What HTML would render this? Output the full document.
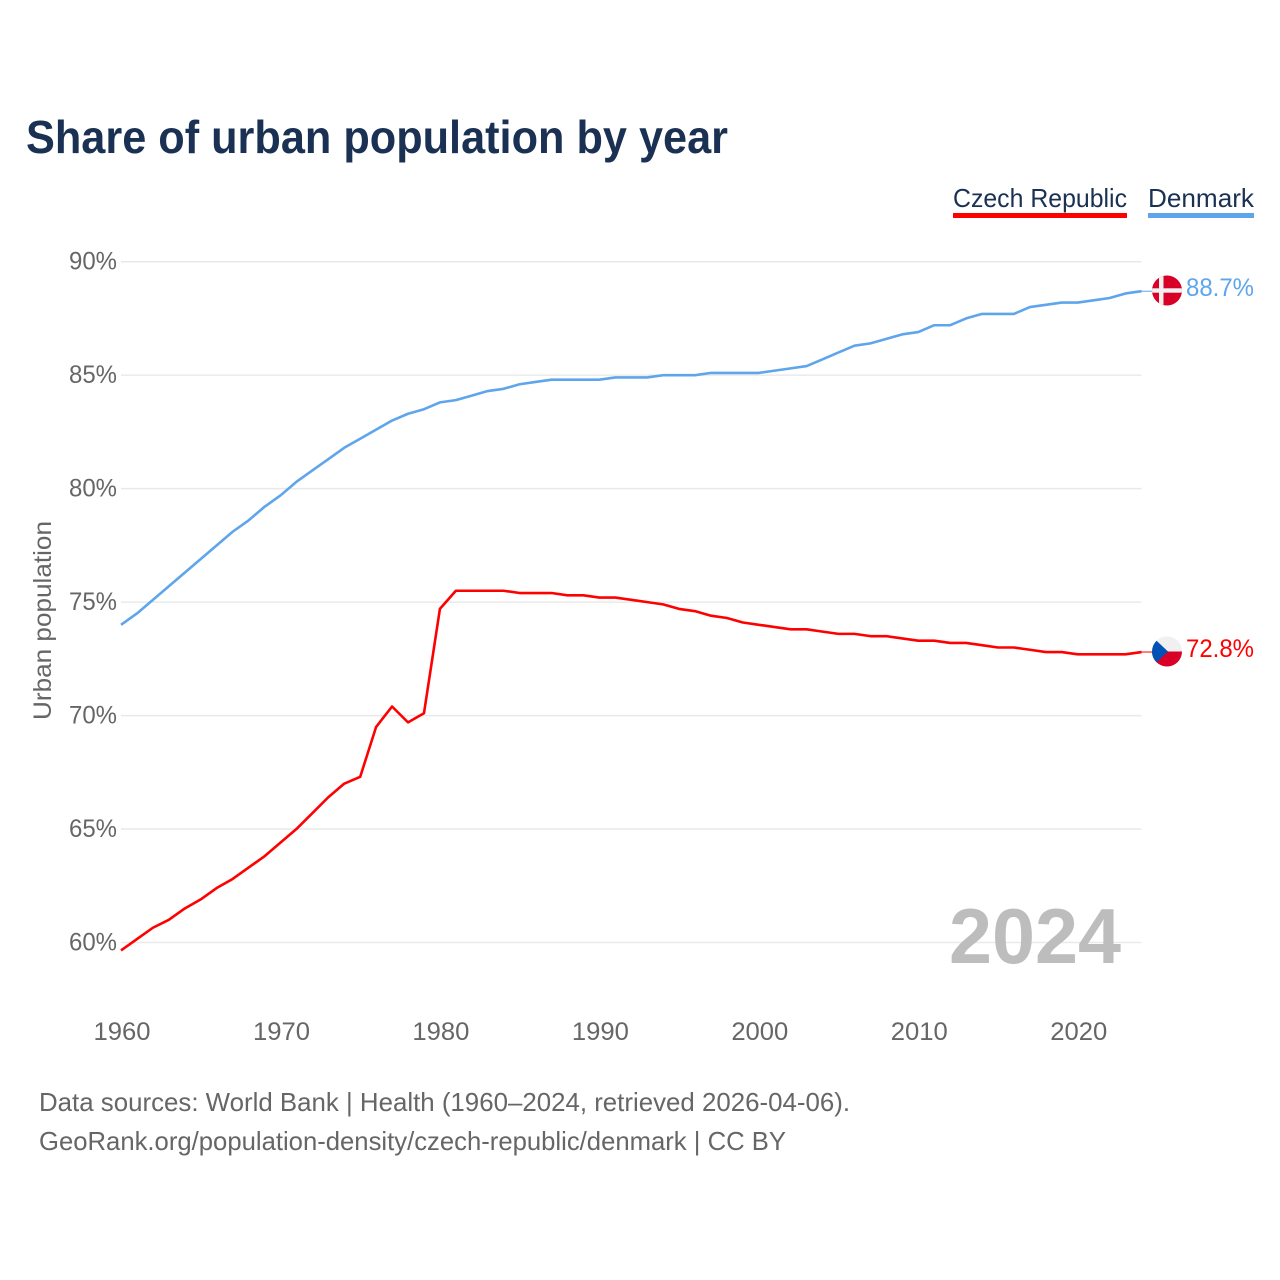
<!DOCTYPE html>
<html lang="en">
<head>
<meta charset="utf-8">
<title>Share of urban population by year</title>
<style>
html,body{margin:0;padding:0;background:#fff;width:1280px;height:1280px;overflow:hidden}
svg{display:block;font-family:"Liberation Sans",sans-serif}
</style>
</head>
<body>
<svg id="chart" width="1280" height="1280" viewBox="0 0 1280 1280" xmlns="http://www.w3.org/2000/svg">
<defs>
<clipPath id="flag-clip-dk"><circle cx="1167" cy="290.5" r="15"/></clipPath>
<clipPath id="flag-clip-cz"><circle cx="1167" cy="651.5" r="15"/></clipPath>
</defs>
<rect width="1280" height="1280" fill="#fff"/>
<text x="26" y="153" font-size="46" font-weight="700" fill="#1a3153" textLength="702" lengthAdjust="spacingAndGlyphs">Share of urban population by year</text>
<g id="grid"></g>
<g id="y-ticks"></g>
<g id="x-ticks"></g>
<text transform="translate(51,620.5) rotate(-90)" text-anchor="middle" font-size="25" fill="#666" textLength="199" lengthAdjust="spacingAndGlyphs">Urban population</text>
<text x="949" y="963" font-size="78" font-weight="700" fill="#bdbdbd" textLength="172" lengthAdjust="spacingAndGlyphs">2024</text>
<g id="series"></g>
<g>
<text x="953" y="207" font-size="26" fill="#1a3153" textLength="174" lengthAdjust="spacingAndGlyphs">Czech Republic</text>
<rect x="953" y="213" width="174" height="5" fill="#ff0000"/>
</g>
<g>
<text x="1148" y="207" font-size="26" fill="#1a3153" textLength="106" lengthAdjust="spacingAndGlyphs">Denmark</text>
<rect x="1148" y="213" width="106" height="5" fill="#5fa5ec"/>
</g>
<g clip-path="url(#flag-clip-dk)">
<rect x="1150" y="273" width="34" height="36" fill="#d80027"/>
<rect x="1159" y="273" width="4.5" height="36" fill="#f0f0f0"/>
<rect x="1150" y="288.3" width="34" height="4.4" fill="#f0f0f0"/>
</g>
<g clip-path="url(#flag-clip-cz)">
<rect x="1150" y="634" width="34" height="17.5" fill="#f0f0f0"/>
<rect x="1150" y="651.5" width="34" height="18" fill="#d80027"/>
<polygon points="1152,636.5 1168,651.5 1152,666.5" fill="#0052b4"/>
</g>
<text id="end-label-denmark" x="1186" y="296" font-size="25" fill="#5fa5ec" textLength="68" lengthAdjust="spacingAndGlyphs"></text>
<text id="end-label-czech" x="1186" y="657" font-size="25" fill="#ff0000" textLength="68" lengthAdjust="spacingAndGlyphs"></text>
<text x="39" y="1111" font-size="26" fill="#666" textLength="811" lengthAdjust="spacingAndGlyphs">Data sources: World Bank | Health (1960–2024, retrieved 2026-04-06).</text>
<text x="39" y="1150" font-size="26" fill="#666" textLength="747" lengthAdjust="spacingAndGlyphs">GeoRank.org/population-density/czech-republic/denmark | CC BY</text>
</svg>
<script>
var startYear = 1960;
var yTickValues = [60, 65, 70, 75, 80, 85, 90];
var xTickValues = [1960, 1970, 1980, 1990, 2000, 2010, 2020];
var denmarkValues = [74.0,74.5,75.1,75.7,76.3,76.9,77.5,78.1,78.6,79.2,79.7,80.3,80.8,81.3,81.8,82.2,82.6,83.0,83.3,83.5,83.8,83.9,84.1,84.3,84.4,84.6,84.7,84.8,84.8,84.8,84.8,84.9,84.9,84.9,85.0,85.0,85.0,85.1,85.1,85.1,85.1,85.2,85.3,85.4,85.7,86.0,86.3,86.4,86.6,86.8,86.9,87.2,87.2,87.5,87.7,87.7,87.7,88.0,88.1,88.2,88.2,88.3,88.4,88.6,88.7];
var czechValues = [59.65,60.15,60.65,61.0,61.5,61.9,62.4,62.8,63.3,63.8,64.4,65.0,65.7,66.4,67.0,67.3,69.5,70.4,69.7,70.1,74.7,75.5,75.5,75.5,75.5,75.4,75.4,75.4,75.3,75.3,75.2,75.2,75.1,75.0,74.9,74.7,74.6,74.4,74.3,74.1,74.0,73.9,73.8,73.8,73.7,73.6,73.6,73.5,73.5,73.4,73.3,73.3,73.2,73.2,73.1,73.0,73.0,72.9,72.8,72.8,72.7,72.7,72.7,72.7,72.8];

var SVGNS = 'http://www.w3.org/2000/svg';
function xScale(year) { return 121 + (year - 1960) * (1141.5 - 121) / 64; }
function yScale(v) { return 942.5 - (v - 60) * (942.5 - 261.7) / 30; }
function make(tag, attrs, parent, text) {
  var el = document.createElementNS(SVGNS, tag);
  for (var k in attrs) el.setAttribute(k, attrs[k]);
  if (text !== undefined) el.textContent = text;
  parent.appendChild(el);
  return el;
}
var grid = document.getElementById('grid');
var yTicks = document.getElementById('y-ticks');
var xTicks = document.getElementById('x-ticks');
var seriesGroup = document.getElementById('series');

yTickValues.forEach(function (v) {
  var line = make('line', {x1: 121, x2: 1141.5, y1: yScale(v), y2: yScale(v), stroke: '#e9e9e9', 'stroke-width': 1.5}, grid);
  
  
  var label = make('text', {x: 117, y: yScale(v) + 8, 'text-anchor': 'end', 'font-size': 25, fill: '#666', textLength: 48, lengthAdjust: 'spacingAndGlyphs'}, yTicks, v + '%');
  
  
});

xTickValues.forEach(function (y) {
  var label = make('text', {x: xScale(y) + 1, y: 1040, 'text-anchor': 'middle', 'font-size': 25, fill: '#666', textLength: 57, lengthAdjust: 'spacingAndGlyphs'}, xTicks, String(y));
  
  
});

function linePath(values) {
  return values.map(function (v, i) {
    return (i ? 'L' : 'M') + xScale(startYear + i).toFixed(2) + ' ' + yScale(v).toFixed(2);
  }).join('');
}

var denmarkLine = make('path', {d: linePath(denmarkValues), fill: 'none', stroke: '#5fa5ec', 'stroke-width': 2.6, 'stroke-linejoin': 'round'}, seriesGroup);



var czechLine = make('path', {d: linePath(czechValues), fill: 'none', stroke: '#ff0000', 'stroke-width': 2.6, 'stroke-linejoin': 'round'}, seriesGroup);



var lastYear = startYear + denmarkValues.length - 1;
var denmarkLast = denmarkValues[denmarkValues.length - 1];
var czechLast = czechValues[czechValues.length - 1];

var denmarkLeader = make('line', {x1: xScale(lastYear), x2: 1152, y1: yScale(denmarkLast), y2: yScale(denmarkLast), stroke: '#5fa5ec', 'stroke-width': 1}, seriesGroup);



var czechLeader = make('line', {x1: xScale(lastYear), x2: 1152, y1: yScale(czechLast), y2: yScale(czechLast), stroke: '#ff0000', 'stroke-width': 1}, seriesGroup);



document.getElementById('end-label-denmark').textContent = denmarkLast.toFixed(1) + '%';
document.getElementById('end-label-czech').textContent = czechLast.toFixed(1) + '%';
</script>
</body>
</html>
